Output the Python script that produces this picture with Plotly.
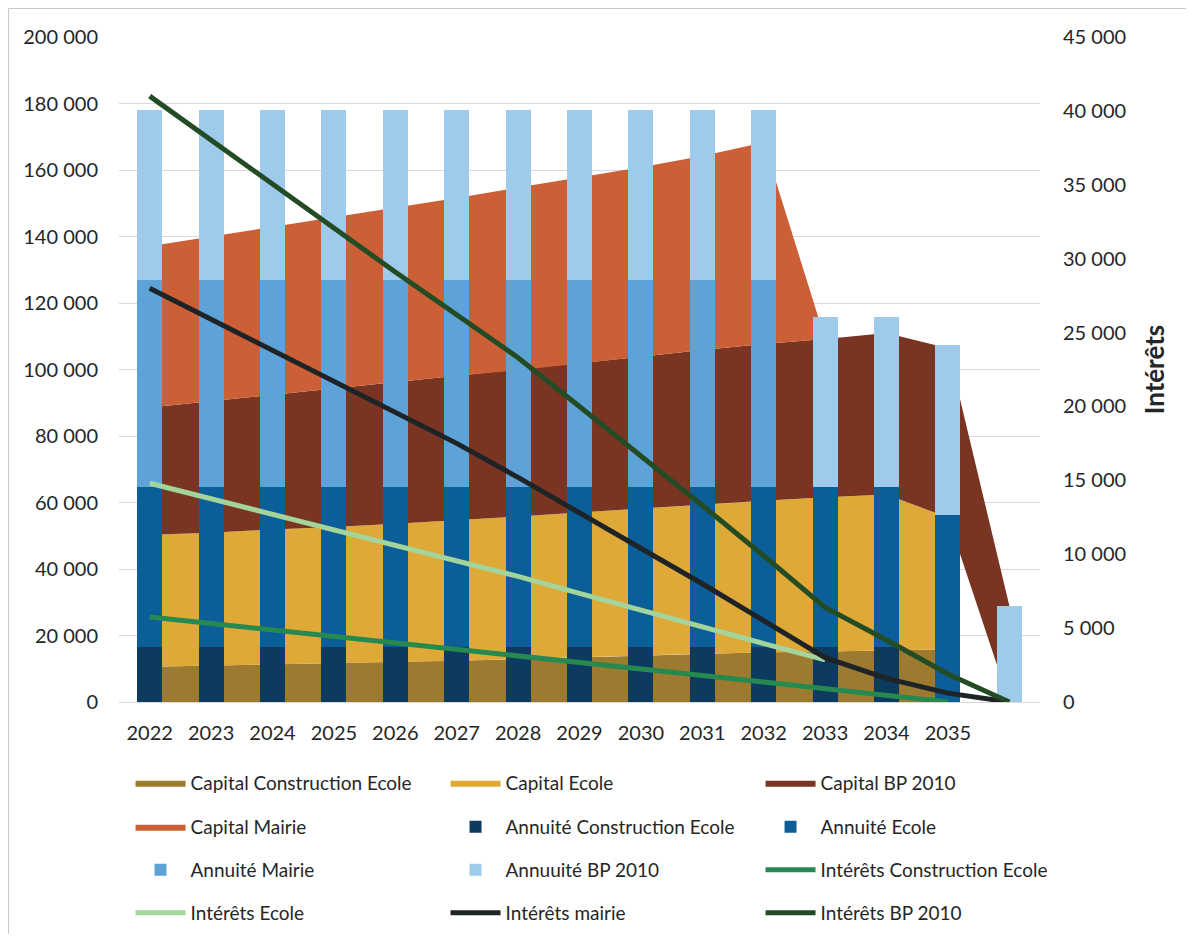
import plotly.graph_objects as go

# categories (last position has no label in the original chart)
years = [2022, 2023, 2024, 2025, 2026, 2027, 2028, 2029, 2030, 2031, 2032, 2033, 2034, 2035, 2036]
year_labels = ["2022", "2023", "2024", "2025", "2026", "2027", "2028", "2029",
               "2030", "2031", "2032", "2033", "2034", "2035", ""]

# capital (stacked areas, left axis)
capital_construction_ecole = [10600, 10950, 11300, 11650, 12000, 12350, 12800, 13400,
                              14000, 14500, 15000, 15200, 15600, 15900, None]
capital_ecole = [39700, 39950, 40600, 40950, 41600, 42250, 43000, 43600,
                 44200, 44900, 45500, 46400, 46800, 39600, None]
capital_bp2010 = [38300, 39600, 40500, 41600, 42600, 43500, 44000, 44700,
                  45600, 46500, 47200, 47600, 48600, 50900, 29000]
capital_mairie = [48500, 49500, 50500, 51500, 52500, 53500, 54900, 56000,
                  57000, 58300, 60600, 0, 0, 0, 0]

# annuités (stacked bars, left axis)
annuite_construction_ecole = [16500, 16500, 16500, 16500, 16500, 16500, 16500, 16500,
                              16500, 16500, 16500, 16500, 16500, None, None]
annuite_ecole = [48100, 48100, 48100, 48100, 48100, 48100, 48100, 48100,
                 48100, 48100, 48100, 48100, 48100, 56200, None]
annuite_mairie = [62300, 62300, 62300, 62300, 62300, 62300, 62300, 62300,
                  62300, 62300, 62300, None, None, None, None]
annuite_bp2010 = [51100, 51100, 51100, 51100, 51100, 51100, 51100, 51100,
                  51100, 51100, 51100, 51100, 51100, 51100, 28900]

# intérêts (lines, right axis)
interets_construction_ecole = [5750, 5320, 4880, 4440, 4000, 3560, 3120, 2680,
                               2240, 1800, 1350, 900, 450, 0, None]
interets_ecole = [14800, 13750, 12700, 11650, 10600, 9550, 8500, 7350,
                  6200, 5050, 3950, 2850, None, None, None]
interets_mairie = [28000, 25900, 23800, 21700, 19600, 17500, 15200, 12800,
                   10400, 8000, 5500, 3000, 1600, 600, 0]
interets_bp2010 = [41000, 38000, 35000, 32000, 29100, 26200, 23300, 20000,
                   16700, 13300, 9900, 6400, 4200, 1900, 0]

FONT = "Lato"
TXT = "#262626"

fig = go.Figure()

# stacked areas drawn as polygons so that missing values leave the area empty
areas = [
    ("Capital Construction Ecole", capital_construction_ecole, "#9c7a30", "legend"),
    ("Capital Ecole", capital_ecole, "#dfa938", "legend"),
    ("Capital BP 2010", capital_bp2010, "#7a3422", "legend"),
    ("Capital Mairie", capital_mairie, "#cc5f35", "legend2"),
]
base = [0] * len(years)
for name, vals, color, leg in areas:
    xs, top, bot = [], [], []
    for i, v in enumerate(vals):
        if v is None:
            continue
        xs.append(years[i])
        bot.append(base[i])
        top.append(base[i] + v)
    fig.add_trace(go.Scatter(
        x=xs + xs[::-1], y=top + bot[::-1],
        fill="toself", fillcolor=color, mode="lines",
        line=dict(width=0, color=color), name=name, legend=leg,
        hoverinfo="skip",
    ))
    base = [b + (v or 0) for b, v in zip(base, vals)]

bars = [
    ("Annuité Construction Ecole", annuite_construction_ecole, "#0d3a5f", "legend2"),
    ("Annuité Ecole", annuite_ecole, "#0b5e98", "legend2"),
    ("Annuité Mairie", annuite_mairie, "#5ea3d7", "legend3"),
    ("Annuuité BP 2010", annuite_bp2010, "#9ecbeb", "legend3"),
]
for name, vals, color, leg in bars:
    fig.add_trace(go.Bar(
        x=years, y=vals, name=name, marker=dict(color=color, line=dict(width=0)),
        width=0.41, yaxis="y2", legend=leg,
    ))

lines = [
    ("Intérêts Construction Ecole", interets_construction_ecole, "#27894f", "legend3"),
    ("Intérêts Ecole", interets_ecole, "#a3d49c", "legend4"),
    ("Intérêts mairie", interets_mairie, "#1e2326", "legend4"),
    ("Intérêts BP 2010", interets_bp2010, "#244c24", "legend4"),
]
for name, vals, color, leg in lines:
    fig.add_trace(go.Scatter(
        x=years, y=vals, name=name, mode="lines",
        line=dict(color=color, width=5), yaxis="y3", legend=leg,
    ))

# the page body adds an 8px margin, so the figure is a bit smaller than the window
legend_common = dict(
    orientation="h", xanchor="left", yanchor="middle",
    entrywidth=238, entrywidthmode="pixels", itemwidth=50,
    font=dict(family=FONT, size=19, color=TXT), bgcolor="rgba(0,0,0,0)",
    traceorder="normal", indentation=12,
)
rows_y = [-0.1218, -0.188, -0.2526, -0.3173]

fig.update_layout(
    width=1178, height=926,
    margin=dict(l=111, r=146, t=29, b=232, autoexpand=False),
    paper_bgcolor="white", plot_bgcolor="white",
    separators=", ",
    barmode="stack",
    font=dict(family=FONT, size=20, color=TXT),
    xaxis=dict(
        range=[2021.5, 2036.5], tickvals=years, ticktext=year_labels,
        showgrid=False, zeroline=False, showline=True, linecolor="#d9d9d9",
        ticks="", ticklabelstandoff=13, tickfont=dict(size=20, color=TXT),
    ),
    yaxis=dict(
        range=[0, 200000], dtick=20000, tickformat=",d",
        showgrid=True, gridcolor="#d9d9d9", zeroline=False,
        ticklabelstandoff=20, tickfont=dict(size=20, color=TXT),
    ),
    yaxis2=dict(
        range=[0, 200000], overlaying="y", visible=False,
    ),
    yaxis3=dict(
        range=[0, 45000], dtick=5000, tickformat=",d", overlaying="y", side="right",
        showgrid=False, zeroline=False, ticklabelstandoff=22,
        tickfont=dict(size=20, color=TXT),
        title=dict(text="<b>Intérêts</b>", font=dict(size=26, color=TXT), standoff=20),
    ),
    legend=dict(legend_common, x=-0.0005, y=rows_y[0]),
    legend2=dict(legend_common, x=-0.0005, y=rows_y[1]),
    legend3=dict(legend_common, x=-0.0005, y=rows_y[2]),
    legend4=dict(legend_common, x=-0.0005, y=rows_y[3]),
    shapes=[dict(
        type="rect", xref="paper", yref="paper",
        x0=-0.1199, x1=1.1824, y0=-0.37, y1=1.0429,
        line=dict(color="#c8c8c8", width=1), fillcolor="rgba(0,0,0,0)", layer="below",
    )],
)

fig.write_html("out.html")
